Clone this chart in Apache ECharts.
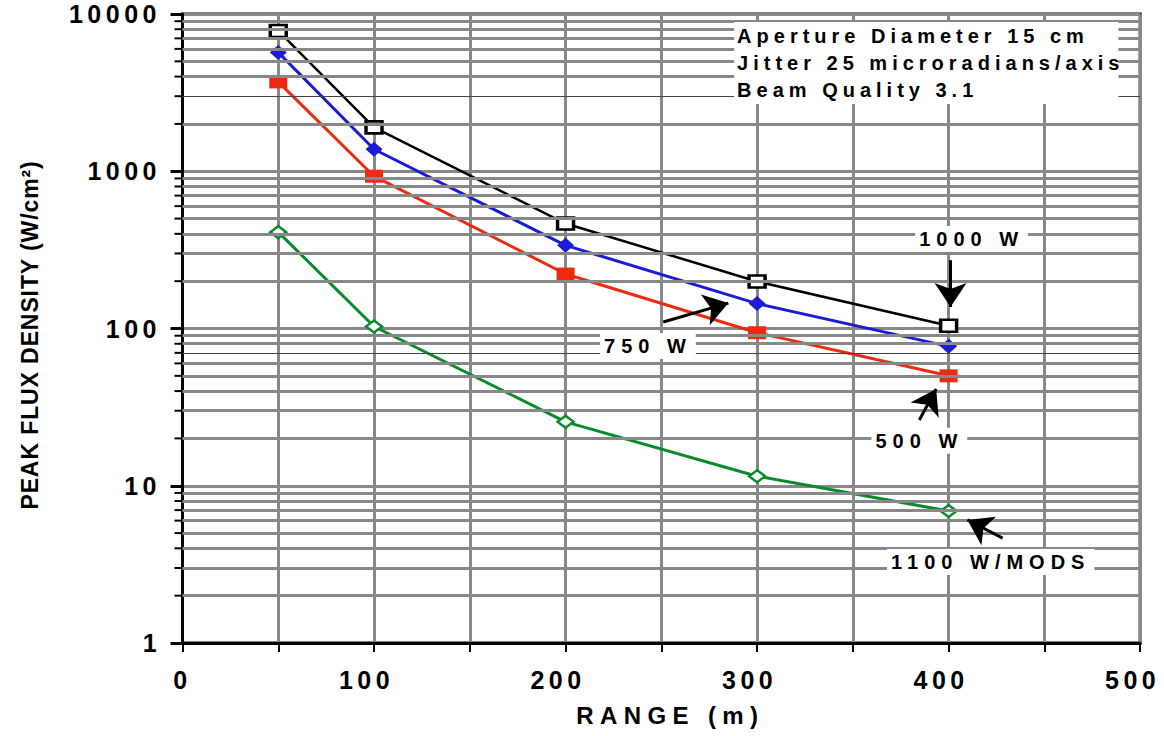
<!DOCTYPE html>
<html>
<head>
<meta charset="utf-8">
<script src="https://cdn.jsdelivr.net/npm/echarts@6/dist/echarts.min.js"></script>
<style>
html,body{margin:0;padding:0;background:#fff;}
#chart{width:1164px;height:736px;}
</style>
</head>
<body>
<div id="chart"></div>
<script>
// ---- data ----
const ranges = [50, 100, 200, 300, 400];
const flux1000 = [7800, 1900, 465, 199, 104];
const flux750 = [5700, 1380, 338, 144, 77];
const flux500 = [3700, 930, 222, 94, 50];
const flux1100 = [410, 103, 25.5, 11.5, 6.9];
const xTickLabels = [0, 100, 200, 300, 400, 500];
const yTickLabels = [1, 10, 100, 1000, 10000];
const seriesNames = ['1000 W', '750 W', '500 W', '1100 W/MODS'];
const infoLines = ['Aperture Diameter 15 cm', 'Jitter 25 microradians/axis', 'Beam Quality 3.1'];
const xName = 'RANGE (m)';
const yName = 'PEAK FLUX DENSITY (W/cm\u00B2)';
const thinDarkGrid = [70, 3000];

// minor horizontal grid values (2..9 per decade)
const decades = [1, 10, 100, 1000];
const minorMult = [2, 3, 4, 5, 6, 7, 8, 9];
const minorAll = [];
decades.forEach(d => minorMult.forEach(m => minorAll.push(d * m)));
const minorGrid = minorAll.filter(v => thinDarkGrid.indexOf(v) < 0);

const FONT = "'Liberation Sans', Arial, sans-serif";
const GRAY = '#888888';

function pairs(ys) { return ranges.map((x, i) => [x, ys[i]]); }

const arrowStyle = { color: '#000', width: 3, type: 'solid' };
function arrow(from, to) { return [{ coord: from }, { coord: to }]; }
function tagLabel(text, coord, padH) {
  return {
    coord: coord,
    symbolSize: 0,
    label: {
      show: true, position: 'inside', formatter: text,
      color: '#000', fontFamily: FONT, fontWeight: 'bold', fontSize: 20,
      backgroundColor: '#fff', padding: [3, padH, 3, padH]
    }
  };
}
const markerLineBase = {
  silent: true, symbol: ['none', 'arrow'], symbolSize: [24, 24],
  lineStyle: arrowStyle, label: { show: false }, animation: false
};

const chart = echarts.init(document.getElementById('chart'), null, { renderer: 'svg' });

const option = {
  animation: false,
  backgroundColor: '#fff',
  grid: {
    left: 182.5, right: 15, top: 14, bottom: 93,
    show: true, borderColor: '#000', borderWidth: 3, backgroundColor: 'transparent'
  },
  xAxis: {
    type: 'value', min: 0, max: 500, interval: 50,
    name: xName, nameLocation: 'middle', nameGap: 60,
    nameTextStyle: { fontFamily: FONT, fontWeight: 'bold', fontSize: 24, color: '#000', padding: [0, 0, 0, 18] },
    axisLine: { show: true, lineStyle: { color: '#000', width: 3 } },
    axisTick: { show: true, inside: false, length: 9, lineStyle: { color: '#000', width: 2 } },
    axisLabel: {
      margin: 24, fontFamily: FONT, fontWeight: 'bold', fontSize: 25, color: '#000',
      formatter: v => (xTickLabels.indexOf(v) >= 0 ? String(v) : '')
    },
    splitLine: { show: true, lineStyle: { color: GRAY, width: 3 } }
  },
  yAxis: {
    type: 'log', logBase: 10, min: 1, max: 10000,
    name: yName, nameLocation: 'middle', nameGap: 141,
    nameTextStyle: { fontFamily: FONT, fontWeight: 'bold', fontSize: 23, color: '#000', padding: [0, 13, 0, 0] },
    axisLine: { show: true, lineStyle: { color: '#000', width: 3 } },
    axisTick: { show: true, inside: false, length: 12, lineStyle: { color: '#000', width: 3 } },
    axisLabel: {
      margin: 26, fontFamily: FONT, fontWeight: 'bold', fontSize: 25, color: '#000',
      formatter: v => (yTickLabels.indexOf(v) >= 0 ? String(v) : '')
    },
    splitLine: { show: true, lineStyle: { color: GRAY, width: 3 } }
  },
  series: [
    {
      name: 'grid', type: 'line', data: [], z: 1, silent: true,
      markLine: {
        silent: true, symbol: ['none', 'none'], animation: false,
        label: { show: false },
        lineStyle: { color: GRAY, width: 3, type: 'solid' },
        data: minorGrid.map(v => ({ yAxis: v }))
          .concat(thinDarkGrid.map(v => ({ yAxis: v, lineStyle: { color: '#444', width: 1.2, type: 'solid' } })))
      }
    },
    {
      name: 'minorTicks', type: 'custom', silent: true, clip: false, z: 4,
      data: minorAll.map(v => [0, v]),
      renderItem: (params, api) => {
        const p = api.coord([api.value(0), api.value(1)]);
        return {
          type: 'line',
          shape: { x1: p[0] - 8, y1: p[1], x2: p[0], y2: p[1] },
          style: { stroke: '#000', lineWidth: 2 }
        };
      }
    },
    {
      name: seriesNames[0], type: 'line', z: 3, data: pairs(flux1000),
      symbol: 'rect', symbolSize: [16, 12],
      lineStyle: { color: '#000', width: 2.5 },
      itemStyle: { color: '#fff', borderColor: '#000', borderWidth: 3 },
      markLine: Object.assign({}, markerLineBase, { data: [arrow([401, 272], [401, 137])] }),
      markPoint: {
        silent: true, animation: false,
        data: [
          tagLabel(seriesNames[0], [412, 371], 22),
          {
            coord: [288, 8895], symbolSize: 0,
            label: {
              show: true, position: [0, 0], align: 'left', verticalAlign: 'top',
              formatter: infoLines.join('\n'),
              color: '#000', fontFamily: FONT, fontWeight: 'bold', fontSize: 20, lineHeight: 27,
              backgroundColor: '#fff', padding: [1, 129, 0, 3]
            }
          }
        ]
      }
    },
    {
      name: seriesNames[1], type: 'line', z: 3, data: pairs(flux750),
      symbol: 'diamond', symbolSize: [17, 15],
      lineStyle: { color: '#1c1cd6', width: 3 },
      itemStyle: { color: '#1c1cd6' },
      markLine: Object.assign({}, markerLineBase, { data: [arrow([251, 110], [285, 145])] }),
      markPoint: { silent: true, animation: false, data: [tagLabel(seriesNames[1], [243, 77.4], 19)] }
    },
    {
      name: seriesNames[2], type: 'line', z: 3, data: pairs(flux500),
      symbol: 'rect', symbolSize: [18, 13],
      lineStyle: { color: '#ee2a10', width: 3 },
      itemStyle: { color: '#ee2a10' },
      markLine: Object.assign({}, markerLineBase, { data: [arrow([384.7, 26.2], [393.5, 41.2])] }),
      markPoint: { silent: true, animation: false, data: [tagLabel(seriesNames[2], [384.7, 19.3], 19)] }
    },
    {
      name: seriesNames[3], type: 'line', z: 3, data: pairs(flux1100),
      symbol: 'diamond', symbolSize: [16, 12],
      lineStyle: { color: '#0b8a2b', width: 3 },
      itemStyle: { color: '#fff', borderColor: '#0b8a2b', borderWidth: 2.5 },
      markLine: Object.assign({}, markerLineBase, { data: [arrow([428.2, 4.65], [409.8, 6.06])] }),
      markPoint: { silent: true, animation: false, data: [tagLabel(seriesNames[3], [422, 3.27], 37)] }
    }
  ]
};
chart.setOption(option);

// letter spacing to mimic the widely-tracked original typography,
// keeping each text's anchor (centre / right / left) where ECharts placed it
const xTickStr = xTickLabels.map(String);
const yTickStr = yTickLabels.map(String);
function applySpacing() {
  document.querySelectorAll('#chart svg text').forEach(t => {
    if (t.getAttribute('data-sp') === '1') return;
    const s = (t.textContent || '').trim();
    const r0 = t.getBoundingClientRect();
    if (!r0 || (r0.width === 0 && r0.height === 0)) return;
    let ls = null, mode = 'left', extra = 0;
    if (yTickStr.indexOf(s) >= 0 && r0.right < 178) { ls = 4.5; mode = 'right'; extra = 4.5; }
    else if (xTickStr.indexOf(s) >= 0) { ls = 4.5; mode = 'center'; extra = -(s.length - 1) * 3.75; }
    else if (s === xName) { ls = 6.4; mode = 'center'; }
    else if (s === yName) { ls = 0.9; mode = 'center'; }
    else if (infoLines.indexOf(s) >= 0) { ls = 5; mode = 'left'; }
    else if (seriesNames.indexOf(s) >= 0) { ls = 6; mode = 'center'; }
    if (ls === null) return;
    t.setAttribute('letter-spacing', ls + 'px');
    const r1 = t.getBoundingClientRect();
    let dx = 0, dy = 0;
    if (mode === 'center') {
      dx = (r0.left + r0.right) / 2 - (r1.left + r1.right) / 2;
      dy = (r0.top + r0.bottom) / 2 - (r1.top + r1.bottom) / 2;
    } else if (mode === 'right') {
      dx = r0.right - r1.right;
    } else {
      dx = r0.left - r1.left;
    }
    dx += extra;
    if (Math.abs(dx) > 0.01 || Math.abs(dy) > 0.01) {
      const old = t.getAttribute('transform') || '';
      t.setAttribute('transform', 'translate(' + dx.toFixed(2) + ' ' + dy.toFixed(2) + ') ' + old);
    }
    t.setAttribute('data-sp', '1');
  });
}
applySpacing();
chart.on('finished', applySpacing);
setTimeout(applySpacing, 0);
setTimeout(applySpacing, 200);
requestAnimationFrame(() => requestAnimationFrame(applySpacing));
</script>
</body>
</html>
